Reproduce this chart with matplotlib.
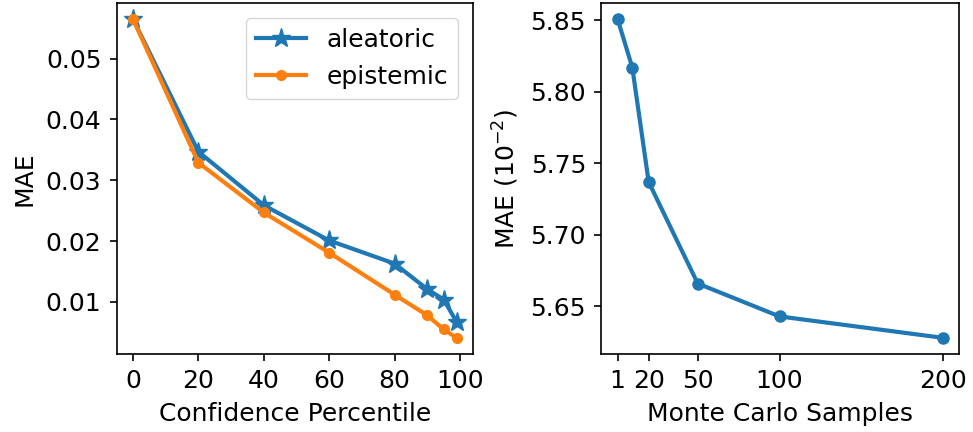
import matplotlib
matplotlib.use("Agg")
import matplotlib.pyplot as plt

# Left panel: MAE vs confidence percentile
percentile = [0, 20, 40, 60, 80, 90, 95, 99]
mae_aleatoric = [0.0565, 0.0347, 0.0259, 0.0201, 0.0163, 0.0121, 0.0104, 0.0067]
mae_epistemic = [0.0565, 0.0329, 0.0247, 0.0181, 0.0112, 0.0078, 0.0055, 0.0041]

# Right panel: MAE vs Monte Carlo samples
mc_samples = [1, 10, 20, 50, 100, 200]
mae_mc = [5.851, 5.817, 5.737, 5.666, 5.643, 5.628]
mc_ticks = [1, 20, 50, 100, 200]

plt.rcParams['font.size'] = 18
plt.rcParams['axes.linewidth'] = 1.2
plt.rcParams['axes.labelpad'] = 6.5
for ax_name in ('xtick', 'ytick'):
    plt.rcParams[ax_name + '.major.size'] = 5
    plt.rcParams[ax_name + '.major.width'] = 1.2
    plt.rcParams[ax_name + '.major.pad'] = 6

fig = plt.figure(figsize=(9.73, 4.32), dpi=100)
ax1 = fig.add_axes([0.120, 0.181, 0.366, 0.812])
ax2 = fig.add_axes([0.618, 0.181, 0.368, 0.812])

ax1.plot(percentile, mae_aleatoric, marker='*', markersize=14, linewidth=3, label='aleatoric')
ax1.plot(percentile, mae_epistemic, marker='o', markersize=7, linewidth=3, label='epistemic')
ax1.set_xlabel('Confidence Percentile')
ax1.set_ylabel('MAE')
ax1.set_xticks([0, 20, 40, 60, 80, 100])
ax1.set_yticks([0.01, 0.02, 0.03, 0.04, 0.05])
ax1.legend(loc='upper right', fontsize=18, borderaxespad=0.6)

ax2.plot(mc_samples, mae_mc, marker='o', markersize=8, linewidth=3)
ax2.set_xlabel('Monte Carlo Samples')
ax2.set_ylabel('MAE ($10^{-2}$)')
ax2.set_xticks(mc_ticks)
ax2.set_yticks([5.65, 5.70, 5.75, 5.80, 5.85])

fig.savefig('out.png', dpi=100)
